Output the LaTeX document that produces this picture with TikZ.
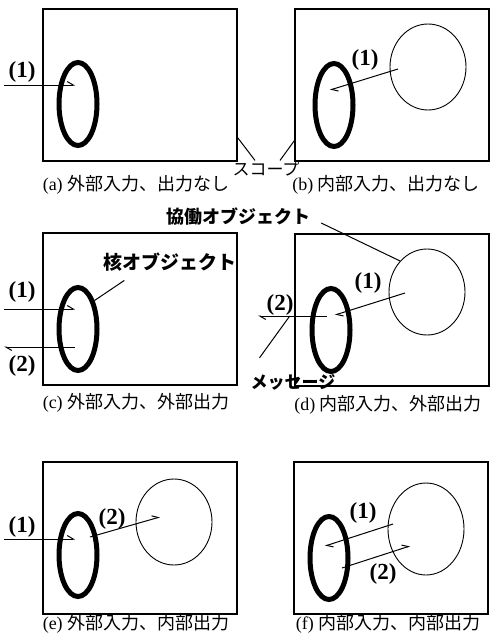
\documentclass[tikz,border=0pt]{standalone}
\usepackage{fontspec}
\setmainfont{Liberation Serif}
\newfontfamily\jfont{Noto Sans CJK JP}
\usetikzlibrary{shapes,arrows.meta}

\begin{document}
\begin{tikzpicture}[x=1pt,y=-1pt,
  frame/.style={draw,line width=1.3pt,minimum width=194pt,minimum height=152pt,inner sep=0pt},
  core/.style={draw,ellipse,line width=5pt,minimum width=38pt,minimum height=83pt,inner sep=0pt},
  collab/.style={draw,ellipse,line width=0.9pt,minimum width=76pt,minimum height=86pt,inner sep=0pt},
  msg/.style={line width=1pt,-{Straight Barb[harpoon,length=6pt,width=7pt]}},
  lead/.style={line width=1pt},
  num/.style={font=\fontsize{23}{23}\selectfont\bfseries,inner sep=0pt},
  capt/.style={font=\fontsize{18}{18}\selectfont,inner sep=0pt},
  jlbl/.style={font=\fontsize{18}{18}\selectfont\jfont\bfseries,inner sep=1pt}]
\fill[white] (0,0) rectangle (490,642);
\useasboundingbox (0,0) rectangle (490,642);
% frames, core objects and captions
\foreach \n/\x/\y/\cx/\cy/\tx/\ty/\cap in {
    a/140/85/78/104/136/185/外部入力、出力なし,
    b/392/85/334/105/386/185/内部入力、出力なし,
    c/140/309/78/329/136/403/外部入力、外部出力,
    d/392/310/331/330/388/405/内部入力、外部出力,
    e/140/538/78/555/136/624/外部入力、内部出力,
    f/391/538/329/558/388/624/内部入力、内部出力} {
  \node[frame] (box\n) at (\x,\y) {};
  \node[core] (cor\n) at (\cx,\cy) {};
  \node[capt] (cap\n) at (\tx,\ty) {(\n) {\jfont\cap}};
}
% collaborating objects
\node[collab] (colb) at (428,67) {};
\node[collab] (cold) at (427,292) {};
\node[collab] (cole) at (174,522) {};
\node[collab,minimum height=92pt] (colf) at (426,529) {};

% (a)
\coordinate (a1s) at (4,85);
\coordinate (a1e) at (75,85);
\draw[msg] (a1s) -- (a1e);
\node[num] (a1) at (22,72) {(1)};
% (b)
\coordinate (b1s) at (398,69);
\coordinate (b1e) at (330,90);
\draw[msg] (b1s) -- (b1e);
\node[num] (b1) at (365,60) {(1)};
% (c)
\coordinate (c1s) at (4,309);
\coordinate (c1e) at (75,309);
\coordinate (c2s) at (75,347);
\coordinate (c2e) at (4,347);
\draw[msg] (c1s) -- (c1e);
\draw[msg] (c2s) -- (c2e);
\node[num] (c1) at (22,292) {(1)};
\node[num] (c2) at (22,366) {(2)};
% (d)
\coordinate (d1s) at (405,293);
\coordinate (d1e) at (335,315);
\coordinate (d2s) at (327,316);
\coordinate (d2e) at (258,316);
\draw[msg] (d1s) -- (d1e);
\draw[msg] (d2s) -- coordinate[pos=0.54] (d2m) (d2e);
\node[num] (d1) at (368,283) {(1)};
\node[num] (d2) at (280,305) {(2)};
% (e)
\coordinate (e1s) at (4,539);
\coordinate (e1e) at (75,539);
\coordinate (e2s) at (90,537);
\coordinate (e2e) at (160,517);
\draw[msg] (e1s) -- (e1e);
\draw[msg] (e2s) -- (e2e);
\node[num] (e1) at (22,527) {(1)};
\node[num] (e2) at (112,519) {(2)};
% (f)
\coordinate (f1s) at (393,524);
\coordinate (f1e) at (325,546);
\coordinate (f2s) at (342,568);
\coordinate (f2e) at (410,546);
\draw[msg] (f1s) -- (f1e);
\draw[msg] (f2s) -- (f2e);
\node[num] (f1) at (363,513) {(1)};
\node[num] (f2) at (383,574) {(2)};

% labels with leaders
\node[jlbl,font=\fontsize{17}{17}\selectfont\jfont] (scope) at (266,169) {スコープ};
\draw[lead] (boxa.south east) ++(0,-24) -- ([xshift=-11pt]scope.north);
\draw[lead] (boxb.south west) ++(0,-21) -- ([xshift=14pt]scope.north);
\node[jlbl] (colab) at (238,217) {協働オブジェクト};
\draw[lead] ([xshift=10pt,yshift=-6pt]colab.east) -- (cold.131);
\node[jlbl,font=\fontsize{19}{19}\selectfont\jfont\bfseries] (corelbl) at (170,262) {核オブジェクト};
\draw[lead] (corc.60) -- ([xshift=22pt,yshift=-8pt]corelbl.south west);
\node[jlbl,font=\fontsize{17}{17}\selectfont\jfont\bfseries] (msglbl) at (293,382) {メッセージ};
\draw[lead] ([xshift=10pt,yshift=15pt]msglbl.north west) -- (d2m);
\end{tikzpicture}
\end{document}
